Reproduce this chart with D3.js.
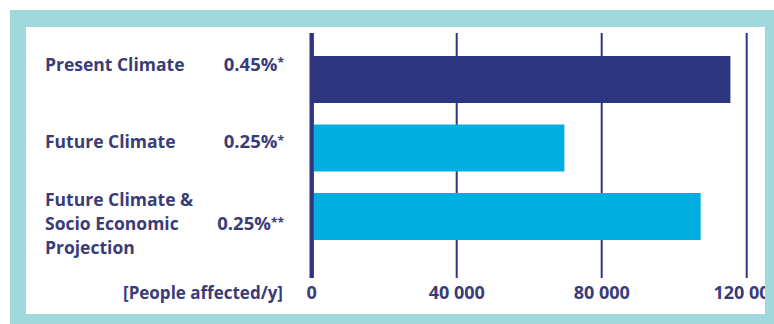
<!DOCTYPE html>
<html>
<head>
<meta charset="utf-8">
<script src="https://cdn.jsdelivr.net/npm/d3@7"></script>
<style>
  html, body { margin: 0; padding: 0; background: #ffffff; }
  svg { display: block; }
  text { font-family: "Open Sans", "DejaVu Sans", sans-serif; font-weight: 700; fill: #3a3c78; }
</style>
</head>
<body>
<svg id="chart" width="774" height="324"></svg>
<script>
// Scenario categories (label lines), rate annotations and people affected per year
const categories = [
  ["Present Climate"],
  ["Future Climate"],
  ["Future Climate &", "Socio Economic", "Projection"]
];
const rates = ["0.45%", "0.25%", "0.25%"];
const rateMarks = ["*", "*", "**"];
const values = [115500, 69700, 107300];
const barColors = ["#2b3580", "#00aee0", "#00aee0"];
const tickValues = [0, 40000, 80000, 120000];
const tickLabels = ["0", "40 000", "80 000", "120 000"];
const unitLabel = "[People affected/y]";

const svg = d3.select("#chart");
const W = 774, H = 324;

// Panel geometry
const frame = { x: 10, y: 10 };
const inner = { x: 26, y: 27, w: 739, h: 287 };

const x = d3.scaleLinear().domain([0, 40000]).range([311.7, 456.7]);
const y = d3.scaleBand().domain(d3.range(categories.length)).range([56, 240]).paddingInner(0.314).paddingOuter(0);

// Teal frame background and white inner panel
svg.append("rect").attr("x", frame.x).attr("y", frame.y).attr("width", W - frame.x).attr("height", H - frame.y).attr("fill", "#a0d9dc");
svg.append("rect").attr("x", inner.x).attr("y", inner.y).attr("width", inner.w).attr("height", inner.h).attr("fill", "#ffffff");

// Everything inside the panel is clipped to the white area (the last tick label runs into the frame)
const clip = svg.append("clipPath").attr("id", "panel");
clip.append("rect").attr("x", inner.x).attr("y", inner.y).attr("width", inner.w).attr("height", inner.h);

const g = svg.append("g").attr("clip-path", "url(#panel)");

// Vertical gridlines
const gridTop = 33, gridBottom = 278;
g.selectAll("line.grid").data(tickValues).enter().append("line")
  .attr("class", "grid")
  .attr("x1", d => x(d)).attr("x2", d => x(d))
  .attr("y1", gridTop).attr("y2", gridBottom)
  .attr("stroke", "#2f3580")
  .attr("stroke-width", d => d === 0 ? 4 : 2);

// Bars
g.selectAll("rect.bar").data(values).enter().append("rect")
  .attr("class", "bar")
  .attr("x", x(0))
  .attr("y", (d, i) => y(i))
  .attr("width", d => x(d) - x(0))
  .attr("height", y.bandwidth())
  .attr("fill", (d, i) => barColors[i]);

// Zero line redrawn on top of bars
g.append("line")
  .attr("x1", x(0)).attr("x2", x(0)).attr("y1", gridTop).attr("y2", gridBottom)
  .attr("stroke", "#2f3580").attr("stroke-width", 4);

// Tick labels
const axisTextY = 293;
g.selectAll("text.tick").data(tickValues).enter().append("text")
  .attr("class", "tick")
  .attr("x", d => x(d))
  .attr("y", axisTextY)
  .attr("dy", "0.35em")
  .attr("text-anchor", "middle")
  .attr("font-size", 18)
  .text((d, i) => tickLabels[i]);

g.append("text")
  .attr("x", 283).attr("y", axisTextY).attr("dy", "0.35em")
  .attr("text-anchor", "end").attr("font-size", 17)
  .text(unitLabel);

// Category labels sit slightly above the bar centre; multi-line labels are centred
const lineGap = 24;
const labelShift = [-15, -6, 7.5];
categories.forEach((lines, i) => {
  const cy = y(i) + y.bandwidth() / 2 + labelShift[i];
  const t = g.append("text").attr("x", 45).attr("font-size", 17.5);
  lines.forEach((ln, j) => {
    t.append("tspan")
      .attr("x", 45)
      .attr("y", cy + (j - (lines.length - 1) / 2) * lineGap)
      .attr("dy", "0.35em")
      .text(ln);
  });
  const r = g.append("text").attr("x", 284).attr("y", cy).attr("dy", "0.35em")
    .attr("text-anchor", "end").attr("font-size", 18.5);
  r.append("tspan").text(rates[i]);
  r.append("tspan").attr("font-size", 12).attr("dy", "-0.3em").text(rateMarks[i]);
});
</script>
</body>
</html>
